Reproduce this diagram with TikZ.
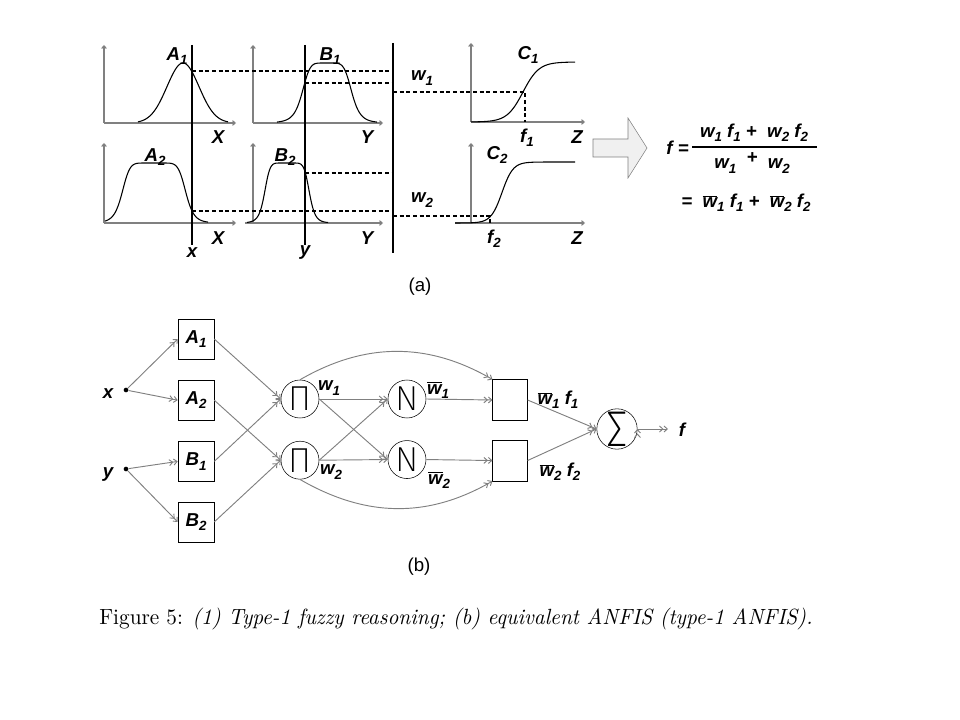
\documentclass[tikz,border=0pt]{standalone}
\usepackage{fontspec}
\usepackage{graphicx}
\newfontfamily\arialfont{Liberation Sans}
\newfontfamily\thinfont{Fira Sans}[UprightFont={* ExtraLight}]
\usetikzlibrary{positioning,arrows.meta}
\newcommand{\idx}[1]{\raisebox{-0.45ex}{\fontsize{10}{10}\selectfont #1}}
\newcommand{\wbar}{$\overline{\mbox{w}}$}
\tikzset{lbl/.style={font=\arialfont\bfseries\itshape\fontsize{14}{16}\selectfont,inner sep=0pt},
	tag/.style={font=\arialfont\fontsize{14}{16}\selectfont,inner sep=0pt},
	mf box/.style={rectangle,draw,minimum width=27pt,minimum height=30pt,inner sep=0pt,lbl},
	op node/.style={circle,draw,minimum size=28.5pt,inner sep=0pt,font=\thinfont\fontsize{26}{26}\selectfont},
	out box/.style={rectangle,draw,minimum width=26pt,minimum height=30.5pt,inner sep=0pt},
	input/.style={circle,fill,inner sep=0pt,minimum size=3.5pt},
	link/.style={draw=gray,line width=0.7pt,->>,>={Straight Barb[length=2.5pt,width=4.5pt]}},
	axis/.style={draw=gray,line width=0.8pt,-{Straight Barb[length=2pt,width=3.5pt]}},
	mf curve/.style={line width=0.8pt,smooth,samples=80},
	cut/.style={line width=1pt},
	level/.style={line width=0.8pt,dash pattern=on 3pt off 2pt},
}
\begin{document}
\begin{tikzpicture}[x=0.75pt,y=-0.75pt]
				\useasboundingbox (0,0) rectangle (960,720);
				
				% (a) fuzzy reasoning
				\draw[axis] (104,123) -- (104,45);
				\draw[axis] (104,123) -- (236,123);
				\draw[axis] (253,123) -- (253,45);
				\draw[axis] (253,123) -- (383,123);
				\draw[axis] (471,122) -- (471,43);
				\draw[axis] (471,122) -- (585,122);
				\draw[axis] (104,223) -- (104,143);
				\draw[axis] (104,223) -- (236,223);
				\draw[axis] (253,223) -- (253,143);
				\draw[axis] (245,223) -- (383,223);
				\draw[axis] (471,223) -- (471,143);
				\draw[axis] (455,223) -- (585,223);
				
				\draw[mf curve,domain=138:228] plot (\x,{123-60*exp(-((\x-183)/16)^2/2)});
				\draw[mf curve,domain=277:377] plot (\x,{123-60/(1+(abs(\x-327)/25)^6)});
				\draw[mf curve,domain=105:208] plot (\x,{223-60/(1+(abs(\x-154)/32)^8)});
				\draw[mf curve,domain=247:328] plot (\x,{223-60/(1+(abs(\x-287)/22.5)^8)});
				\draw[mf curve,domain=471:575] plot (\x,{122-60/(1+exp(-(\x-523)/8))});
				\draw[mf curve,domain=455:575] plot (\x,{223-61/(1+exp(-(\x-502)/5.5))});
				
				\draw[cut] (192,45) -- (192,245);
				\draw[cut] (305,45) -- (305,245);
				\draw[cut] (393,43) -- (393,253);
				
				\draw[level] (192,71) -- (393,71);
				\draw[level] (305,83) -- (393,83);
				\draw[level] (393,92) -- (525,92) -- (525,122);
				\draw[level] (305,173) -- (393,173);
				\draw[level] (192,211) -- (393,211);
				\draw[level] (393,216) -- (490,216) -- (490,223);
				
				\node[lbl] (la1) at (177,56) {A\idx{1}};
				\node[lbl] (lb1) at (330,56) {B\idx{1}};
				\node[lbl] (lc1) at (528,55) {C\idx{1}};
				\node[lbl] (la2) at (155,157) {A\idx{2}};
				\node[lbl] (lb2) at (285,157) {B\idx{2}};
				\node[lbl] (lc2) at (497,155) {C\idx{2}};
				\node[lbl] (lx1) at (218,137) {X};
				\node[lbl] (ly1) at (367,137) {Y};
				\node[lbl] (lz1) at (577,137) {Z};
				\node[lbl] (lx2) at (218,238) {X};
				\node[lbl] (ly2) at (367,238) {Y};
				\node[lbl] (lz2) at (577,238) {Z};
				\node[lbl] (lx) at (192,253) {x};
				\node[lbl] (ly) at (305,253) {y};
				\node[lbl] (lw1) at (422,78) {w\idx{1}};
				\node[lbl] (lw2) at (422,200) {w\idx{2}};
				\node[lbl] (lf1) at (527,138) {f\idx{1}};
				\node[lbl] (lf2) at (494,239) {f\idx{2}};
				\node[tag] (ta) at (420,287) {(a)};
				
				\draw[gray,fill=gray!12] (593,139) -- (628,139) -- (628,118) -- (647,148)
					-- (628,178) -- (628,157) -- (593,157) -- cycle;
				
				\node[lbl,anchor=east] (feq) at (689,148) {f =};
				\draw[line width=0.8pt] (692,147) -- (817,147);
				\node[lbl] (num) at (754,133) {w\idx{1} f\idx{1} +~ w\idx{2} f\idx{2}};
				\node[lbl] (den) at (752,163) {w\idx{1}~ \raisebox{0.5ex}{+}~ w\idx{2}};
				\node[lbl] (avg) at (746,203) {=~ \wbar\idx{1} f\idx{1} +~ \wbar\idx{2} f\idx{2}};
				
				% (b) ANFIS
				\node[input] (xin) at (126,390) {};
				\node[input] (yin) at (126,469) {};
				\node[lbl] (xlab) at (108,394) {x};
				\node[lbl] (ylab) at (108,475) {y};
				
				\node[mf box] (A1) at (196,339) {A\idx{1}};
				\node[mf box] (A2) [below=15.5pt of A1] {A\idx{2}};
				\node[mf box] (B1) [below=15.5pt of A2] {B\idx{1}};
				\node[mf box] (B2) [below=15pt of B1] {B\idx{2}};
				
				\node[op node] (P1) at (300,399) {Π};
				\node[op node] (P2) [below=17pt of P1] {Π};
				\node[op node] (N1) at (407,399) {N};
				\node[op node] (N2) [below=16.5pt of N1] {N};
				\node[out box] (S1) at (510,400) {};
				\node[out box] (S2) [below=14.5pt of S1] {};
				\node[op node] (Sum) at (617,429) {\scalebox{1.25}[1.45]{Σ}};
				\coordinate (fout) at (668,429);
				\node[lbl] (flab) at (682,430) {f};
				
				\path[link]
				(xin) edge (A1.west)
				(xin) edge (A2.west)
				(yin) edge (B1.west)
				(yin) edge (B2.west)
				(A1.east) edge (P1.west)
				(B1.east) edge (P1.west)
				(A2.east) edge (P2.west)
				(B2.east) edge (P2.west)
				(P1.east) edge (N1.west)
				(P1.east) edge (N2.west)
				(P2.east) edge (N1.west)
				(P2.east) edge (N2.west)
				(N1.east) edge (S1.west)
				(N2.east) edge (S2.west)
				(P1.north) edge[out=30,in=150] (S1.north west)
				(P2.south) edge[out=-30,in=-150] (S2.south west)
				(S1.east) edge (Sum.west)
				(S2.east) edge (Sum.west)
				(Sum.east) edge (fout);
				
				\node[lbl] (lw1b) at (329,388) {w\idx{1}};
				\node[lbl] (lw2b) at (331,472) {w\idx{2}};
				\node[lbl] (lwb1) at (438,390) {\wbar\idx{1}};
				\node[lbl] (lwb2) at (439,480) {\wbar\idx{2}};
				\node[lbl] (lwf1) at (558,400) {\wbar\idx{1} f\idx{1}};
				\node[lbl] (lwf2) at (560,472) {\wbar\idx{2} f\idx{2}};
				\node[tag] (tb) at (419,567) {(b)};
				
				\node[inner sep=0pt] (cap) at (456,619) {\resizebox*{535pt}{16.5pt}{Figure 5: \textit{(1) Type-1 fuzzy reasoning; (b) equivalent ANFIS (type-1 ANFIS).}}};
				
			\end{tikzpicture}
\end{document}
